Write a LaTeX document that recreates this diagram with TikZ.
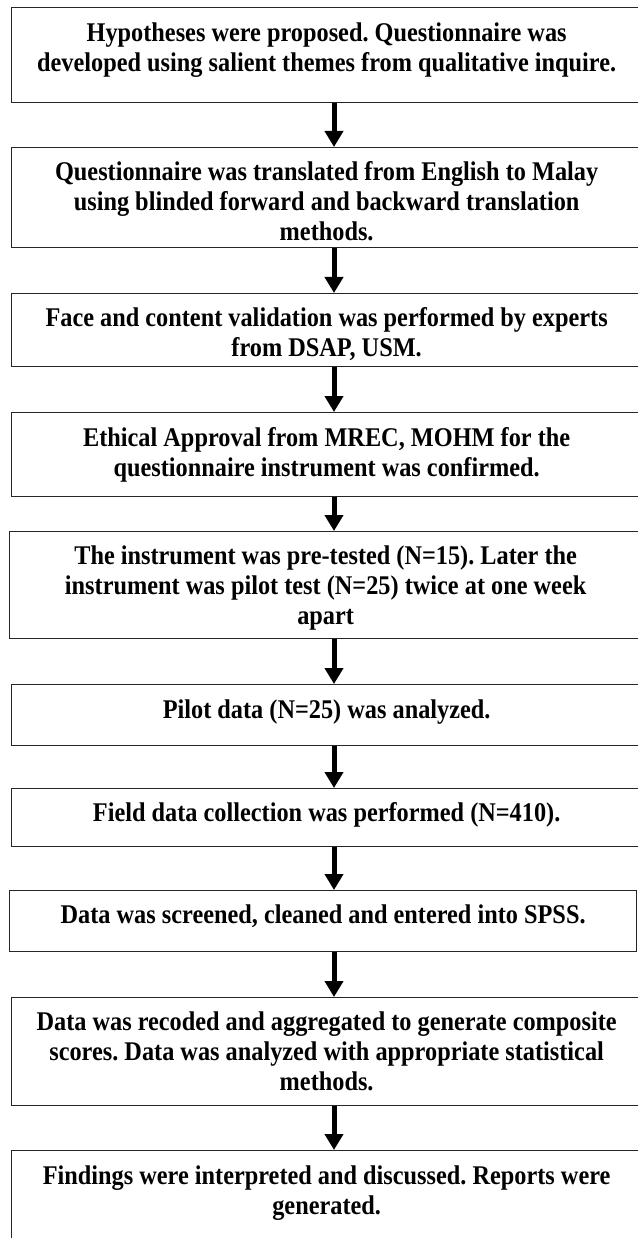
\documentclass[tikz,border=0pt]{standalone}
\usepackage{fontspec}
\setmainfont{Liberation Serif}
\usetikzlibrary{arrows.meta,calc}
\frenchspacing
\newcommand{\boxtext}[1]{\scalebox{0.9}[1]{\setlength{\tabcolsep}{0pt}\begin{tabular}{c}#1\end{tabular}}}
\tikzset{
  box/.style={draw=black!85, line width=1.3pt, rectangle, inner sep=0pt, anchor=north west},
  txt/.style={anchor=north, inner sep=0pt, font=\fontsize{27}{29.8}\selectfont\bfseries},
  arr/.style={line width=5pt, -{Triangle[width=18pt,length=16pt]}, black}
}
\begin{document}
\begin{tikzpicture}[x=1pt,y=1pt]
\useasboundingbox (0,0) rectangle (637,-1238);
\fill[white] (0,0) rectangle (637,-1238);
\coordinate (ax) at (334,0);
% boxes
\node[box, minimum width=630pt, minimum height=95pt]  (b1)  at (11,-7)    {};
\node[box, minimum width=630pt, minimum height=100pt] (b2)  at (11,-147)  {};
\node[box, minimum width=630pt, minimum height=73pt]  (b3)  at (11,-293)  {};
\node[box, minimum width=630pt, minimum height=84pt]  (b4)  at (11,-412)  {};
\node[box, minimum width=632pt, minimum height=107pt] (b5)  at (9,-531)   {};
\node[box, minimum width=630pt, minimum height=61pt]  (b6)  at (11,-684)  {};
\node[box, minimum width=630pt, minimum height=58pt]  (b7)  at (11,-788)  {};
\node[box, minimum width=627pt, minimum height=61pt]  (b8)  at (9,-890)   {};
\node[box, minimum width=630pt, minimum height=108pt] (b9)  at (11,-997)  {};
\node[box, minimum width=630pt, minimum height=110pt] (b10) at (11,-1150) {};
% texts
\node[txt] (t1) at ($(b1.north)+(0,-13.3)$) {\boxtext{Hypotheses were proposed. Questionnaire was\\developed using salient themes from qualitative inquire.}};
\node[txt] (t2) at ($(b2.north)+(0,-12.5)$) {\boxtext{Questionnaire was translated from English to Malay\\using blinded forward and backward translation\\methods.}};
\node[txt] (t3) at ($(b3.north)+(0,-12.5)$) {\boxtext{Face and content validation was performed by experts\\from DSAP, USM.}};
\node[txt] (t4) at ($(b4.north)+(0,-13.3)$) {\boxtext{Ethical Approval from MREC, MOHM for the\\questionnaire instrument was confirmed.}};
\node[txt] (t5) at ($(b5.north)+(0,-12.5)$) {\boxtext{The instrument was pre-tested (N=15). Later the\\instrument was pilot test (N=25) twice at one week\\apart}};
\node[txt] (t6) at ($(b6.north)+(0,-13.3)$) {\boxtext{Pilot data (N=25) was analyzed.}};
\node[txt] (t7) at ($(b7.north)+(0,-12.5)$) {\boxtext{Field data collection was performed (N=410).}};
\node[txt] (t8) at ($(b8.north)+(0,-12.5)$) {\boxtext{Data was screened, cleaned and entered into SPSS.}};
\node[txt] (t9) at ($(b9.north)+(0,-12.5)$) {\boxtext{Data was recoded and aggregated to generate composite\\scores. Data was analyzed with appropriate statistical\\methods.}};
\node[txt] (t10) at ($(b10.north)+(0,-13.3)$) {\boxtext{Findings were interpreted and discussed. Reports were\\generated.}};
% arrows
\foreach \a/\b in {b1/b2,b2/b3,b3/b4,b4/b5,b5/b6,b6/b7,b7/b8,b8/b9,b9/b10}
  \draw[arr] (\a.south -| ax) -- (\b.north -| ax);
\end{tikzpicture}
\end{document}
